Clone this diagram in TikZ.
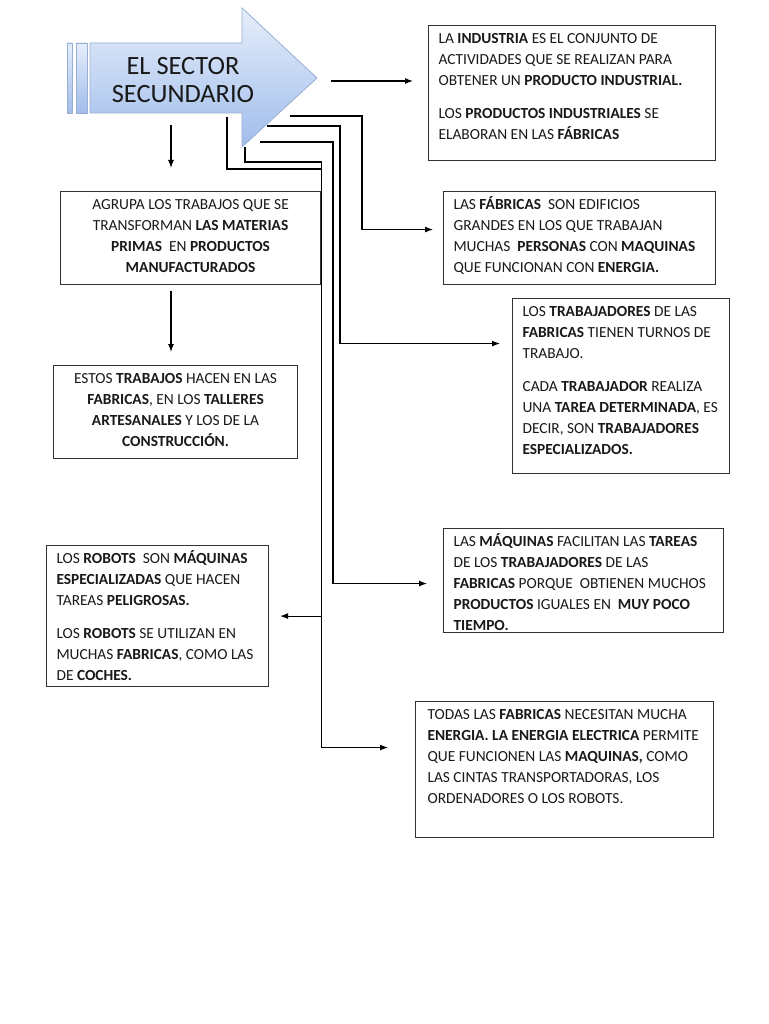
\documentclass[tikz,border=0pt]{standalone}
\usepackage{fontspec}
\setmainfont{Carlito}
\usetikzlibrary{calc}
\usetikzlibrary{arrows.meta}

\definecolor{flechaclaro}{HTML}{E6EEFB}
\definecolor{flechaoscuro}{HTML}{A0BDEB}
\definecolor{flechaborde}{HTML}{98AED3}

\newcommand{\boxtext}[4][\raggedright]{\parbox[t][#3][t]{#2}{#1\strut #4}}

\begin{document}
\begin{tikzpicture}[x=1pt, y=-1pt,
    caja/.style={draw=black!80, line width=1.1pt, anchor=north west, inner xsep=10pt, inner ysep=3pt,
        font=\fontsize{15.4}{21}\selectfont, text=black!90},
    conn/.style={line width=1.1pt, -{Latex[length=8pt,width=6pt]}},
    linea/.style={line width=1.1pt}]
        \fill[white] (0,0) rectangle (768,1024);
        \useasboundingbox (0,0) rectangle (768,1024);
        % flecha del titulo
        \shade[top color=flechaclaro, bottom color=flechaoscuro, draw=flechaborde, line width=0.8pt] (67,43) rectangle (72,113);
        \shade[top color=flechaclaro, bottom color=flechaoscuro, draw=flechaborde, line width=0.8pt] (76,43) rectangle (87,113);
        \shade[top color=flechaclaro, bottom color=flechaoscuro, draw=flechaborde, line width=0.8pt]
            (90,43) -- (242,43) -- (242,8) -- (317,78) -- (242,147) -- (242,113) -- (90,113) -- cycle;
        \node[font=\fontsize{26.4}{28}\selectfont, align=center, inner sep=0pt, text=black!90] (sector) at (183,80) {EL SECTOR\\SECUNDARIO};
        \coordinate (oA) at (331,81);
        \coordinate (oB) at (290,116);
        \coordinate (oC) at (267,126);
        \coordinate (oD) at (260,142);
        \coordinate (oE) at (245,147);
        \coordinate (oF) at (227,117);
        \coordinate (oG) at (171,125);
        % cajas
        \node[caja] (industria) at (428,25) {\boxtext{267pt}{129pt}{LA \textbf{INDUSTRIA} ES EL CONJUNTO DE\\
            ACTIVIDADES QUE SE REALIZAN PARA\\ OBTENER UN \textbf{PRODUCTO INDUSTRIAL.}\\[12pt]
            LOS \textbf{PRODUCTOS INDUSTRIALES} SE\\ ELABORAN EN LAS \textbf{FÁBRICAS}}};
        \node[caja] (agrupa) at (60,191) {\boxtext[\centering]{240pt}{87pt}{AGRUPA LOS TRABAJOS QUE SE\\
            TRANSFORMAN \textbf{LAS MATERIAS}\\ \textbf{PRIMAS}\ \ EN \textbf{PRODUCTOS}\\ \textbf{MANUFACTURADOS}}};
        \node[caja] (estos) at (53,365) {\boxtext[\centering]{224pt}{87pt}{ESTOS \textbf{TRABAJOS} HACEN EN LAS\\
            \textbf{FABRICAS}, EN LOS \textbf{TALLERES}\\ \textbf{ARTESANALES} Y LOS DE LA\\ \textbf{CONSTRUCCIÓN.}}};
        \node[caja] (fabricas) at (443,191) {\boxtext{252pt}{87pt}{LAS \textbf{FÁBRICAS}\ \ SON EDIFICIOS\\
            GRANDES EN LOS QUE TRABAJAN\\ \mbox{MUCHAS\ \ \textbf{PERSONAS} CON \textbf{MAQUINAS}}\\ QUE FUNCIONAN CON \textbf{ENERGIA.}}};
        \node[caja] (trabajadores) at (512,298) {\boxtext{197pt}{169pt}{LOS \textbf{TRABAJADORES} DE LAS\\
            \textbf{FABRICAS} TIENEN TURNOS DE\\ TRABAJO.\\[12pt] CADA \textbf{TRABAJADOR} REALIZA\\
            \mbox{UNA \textbf{TAREA DETERMINADA}, ES}\\ \mbox{DECIR, SON \textbf{TRABAJADORES}}\\ \textbf{ESPECIALIZADOS.}}};
        \node[caja] (maquinas) at (443,528) {\boxtext{260pt}{98pt}{\mbox{LAS \textbf{MÁQUINAS} FACILITAN LAS \textbf{TAREAS}}\\
            DE LOS \textbf{TRABAJADORES} DE LAS\\ \mbox{\textbf{FABRICAS} PORQUE\ \ OBTIENEN MUCHOS}\\
            \mbox{\textbf{PRODUCTOS} IGUALES EN\ \ \textbf{MUY POCO}}\\ \textbf{TIEMPO.}}};
        \node[caja] (robots) at (46,545) {\boxtext{202pt}{135pt}{\mbox{LOS \textbf{ROBOTS}\ \ SON \textbf{MÁQUINAS}}\\
            \mbox{\textbf{ESPECIALIZADAS} QUE HACEN}\\ TAREAS \textbf{PELIGROSAS.}\\[12pt] \mbox{LOS \textbf{ROBOTS} SE UTILIZAN EN}\\
            \mbox{MUCHAS \textbf{FABRICAS}, COMO LAS}\\ DE \textbf{COCHES.}}};
        \node[caja] (energia) at (415,701) {\hspace{2pt}\boxtext{276pt}{130pt}{\mbox{TODAS LAS \textbf{FABRICAS} NECESITAN MUCHA}\\
            \mbox{\textbf{ENERGIA. LA ENERGIA ELECTRICA} PERMITE}\\ \mbox{QUE FUNCIONEN LAS \textbf{MAQUINAS,} COMO}\\
            LAS CINTAS TRANSPORTADORAS, LOS\\ ORDENADORES O LOS ROBOTS.}\hspace{2pt}};
        % conectores
        \draw[conn, shorten >=15pt] (oA) -- (oA -| industria.west);
        \draw[conn, shorten >=10pt] (oB) -- ++(72,0) |- ([yshift=8.5pt]fabricas.west);
        \draw[conn, shorten >=12pt] (oC) -- ++(73,0) |- ([yshift=42.5pt]trabajadores.west);
        \draw[conn, shorten >=16pt] (oD) -- ++(73,0) |- ([yshift=-3pt]maquinas.west);
        \draw[conn, shorten >=27pt] (oE) |- ([yshift=29pt]agrupa.north east) |- ([yshift=22pt]energia.west);
        \draw[linea] (oF) |- ([yshift=22pt]agrupa.north east);
        \draw[conn, shorten >=11pt] (robots.east -| agrupa.east) -- (robots.east);
        \draw[conn, shorten >=23pt] (oG) -- (oG |- agrupa.north);
        \draw[conn, shorten <=6pt, shorten >=13pt] (agrupa.south -| oG) -- (estos.north -| oG);
    \end{tikzpicture}
\end{document}
